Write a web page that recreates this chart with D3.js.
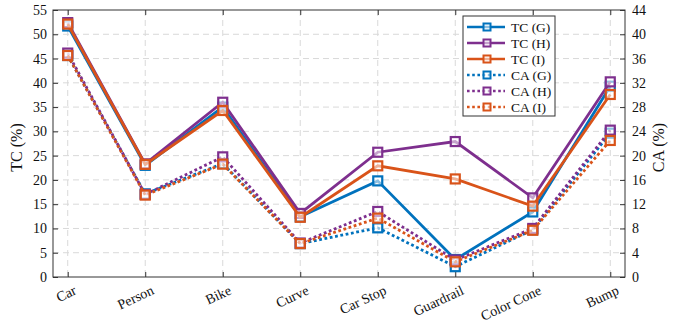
<!DOCTYPE html>
<html>
<head>
<meta charset="utf-8">
<script src="https://cdn.jsdelivr.net/npm/d3@7"></script>
<style>
  html, body { margin: 0; padding: 0; background: #fff; }
  svg text { font-family: "Liberation Serif", "Times New Roman", Tinos, "DejaVu Serif", serif !important; }
</style>
</head>
<body>
<svg id="chart" width="679" height="328"></svg>
<script>
const categories = ["Car", "Person", "Bike", "Curve", "Car Stop", "Guardrail", "Color Cone", "Bump"];
const tcG = [51.7, 23.0, 35.0, 12.4, 19.8, 3.6, 13.4, 39.3];
const tcH = [52.4, 23.3, 36.0, 13.1, 25.7, 27.9, 16.3, 40.2];
const tcI = [52.1, 23.2, 34.3, 12.3, 22.9, 20.2, 14.6, 37.6];
const caG = [36.5, 13.7, 18.7, 5.5, 8.1, 1.7, 7.8, 23.7];
const caH = [36.9, 13.6, 19.8, 5.6, 10.8, 2.8, 8.0, 24.2];
const caI = [36.5, 13.5, 18.6, 5.5, 9.7, 2.5, 7.7, 22.5];
const leftTicks = [0, 5, 10, 15, 20, 25, 30, 35, 40, 45, 50, 55];
const rightTicks = [0, 4, 8, 12, 16, 20, 24, 28, 32, 36, 40, 44];
const seriesNames = ["TC (G)", "TC (H)", "TC (I)", "CA (G)", "CA (H)", "CA (I)"];

const colors = { G: "#0072BD", H: "#7E2F8E", I: "#D95319" };
const FONT = "'Liberation Serif', 'Times New Roman', Tinos, 'DejaVu Serif', serif";

const m = { left: 53, right: 54, top: 10, bottom: 51 };
const W = 679, H = 328;
const iw = W - m.left - m.right, ih = H - m.top - m.bottom;

const svg = d3.select("#chart");
const g = svg.append("g").attr("transform", `translate(${m.left},${m.top})`);

const x = d3.scalePoint().domain(categories).range([0, iw]).padding(0.19);
const yL = d3.scaleLinear().domain([0, 55]).range([ih, 0]);
const yR = d3.scaleLinear().domain([0, 44]).range([ih, 0]);

// grid
const grid = g.append("g").attr("stroke", "#d9d9d9").attr("stroke-width", 1).attr("stroke-dasharray", "6,4");
grid.selectAll(".h").data(leftTicks.slice(1, -1)).join("line")
  .attr("x1", 0).attr("x2", iw).attr("y1", d => yL(d)).attr("y2", d => yL(d));
grid.selectAll(".v").data(categories).join("line")
  .attr("x1", d => x(d)).attr("x2", d => x(d)).attr("y1", 0).attr("y2", ih);

// axes
const axColor = "#333";
function styleAxis(sel, showLabels) {
  sel.attr("font-family", FONT);
  sel.select(".domain").remove();
  sel.selectAll(".tick line").attr("stroke", axColor);
  sel.selectAll(".tick text").attr("fill", "#111").attr("font-size", 14).attr("font-family", FONT);
  if (!showLabels) sel.selectAll(".tick text").remove();
}
g.append("g").call(d3.axisLeft(yL).tickValues(leftTicks).tickSize(-5).tickPadding(6)).call(s => styleAxis(s, true));
g.append("g").attr("transform", `translate(${iw},0)`)
  .call(d3.axisRight(yR).tickValues(rightTicks).tickSize(-5).tickPadding(7)).call(s => styleAxis(s, true));
g.append("g").attr("transform", `translate(0,${ih})`)
  .call(d3.axisBottom(x).tickSize(-5)).call(s => styleAxis(s, false));
g.append("g").call(d3.axisTop(x).tickSize(-5)).call(s => styleAxis(s, false));

// frame
g.append("rect").attr("x", 0).attr("y", 0).attr("width", iw).attr("height", ih)
  .attr("fill", "none").attr("stroke", axColor).attr("stroke-width", 1);

// x labels rotated
g.append("g").selectAll("text").data(categories).join("text")
  .attr("transform", d => `translate(${x(d) + 6},${ih + 9}) rotate(-25)`)
  .attr("text-anchor", "end").attr("dy", "0.6em")
  .attr("font-family", FONT).attr("font-size", 14).attr("fill", "#111")
  .text(d => d);

// axis titles
svg.append("text").attr("transform", `translate(22,${m.top + ih / 2 + 4}) rotate(-90)`)
  .attr("text-anchor", "middle").attr("font-family", FONT).attr("font-size", 16).attr("fill", "#111").text("TC (%)");
svg.append("text").attr("transform", `translate(664,${m.top + ih / 2 + 4}) rotate(-90)`)
  .attr("text-anchor", "middle").attr("font-family", FONT).attr("font-size", 16).attr("fill", "#111").text("CA (%)");

// series
const series = [
  { name: seriesNames[0], vals: tcG, y: yL, c: colors.G, dotted: false },
  { name: seriesNames[1], vals: tcH, y: yL, c: colors.H, dotted: false },
  { name: seriesNames[2], vals: tcI, y: yL, c: colors.I, dotted: false },
  { name: seriesNames[3], vals: caG, y: yR, c: colors.G, dotted: true },
  { name: seriesNames[4], vals: caH, y: yR, c: colors.H, dotted: true },
  { name: seriesNames[5], vals: caI, y: yR, c: colors.I, dotted: true }
];

const ms = 9;
series.forEach(s => {
  const line = d3.line().x((d, i) => x(categories[i])).y(d => s.y(d));
  const sg = g.append("g");
  sg.append("path").datum(s.vals).attr("d", line)
    .attr("fill", "none").attr("stroke", s.c).attr("stroke-width", 2.8)
    .attr("stroke-dasharray", s.dotted ? "2.8,2.6" : null);
  sg.selectAll("rect").data(s.vals).join("rect")
    .attr("x", (d, i) => x(categories[i]) - ms / 2).attr("y", d => s.y(d) - ms / 2)
    .attr("width", ms).attr("height", ms)
    .attr("fill", "#fff").attr("fill-opacity", 0.55).attr("stroke", s.c).attr("stroke-width", 2.2);
});

// legend
const lg = svg.append("g").attr("transform", "translate(463,16)");
lg.append("rect").attr("x", 0).attr("y", 0).attr("width", 92).attr("height", 100)
  .attr("fill", "#fff").attr("stroke", axColor).attr("stroke-width", 1);
series.forEach((s, i) => {
  const yy = 11 + i * 16;
  const it = lg.append("g").attr("transform", `translate(0,${yy})`);
  it.append("line").attr("x1", 4).attr("x2", 42).attr("y1", 0).attr("y2", 0)
    .attr("stroke", s.c).attr("stroke-width", 2.6)
    .attr("stroke-dasharray", s.dotted ? "2.6,2.6" : null);
  it.append("rect").attr("x", 24 - 3.5).attr("y", -3.5).attr("width", 7).attr("height", 7)
    .attr("fill", "#fff").attr("fill-opacity", 0.55).attr("stroke", s.c).attr("stroke-width", 2);
  it.append("text").attr("x", 48).attr("y", 0).attr("dy", "0.35em")
    .attr("font-family", FONT).attr("font-size", 13.5).attr("fill", "#111").text(s.name);
});
</script>
</body>
</html>
